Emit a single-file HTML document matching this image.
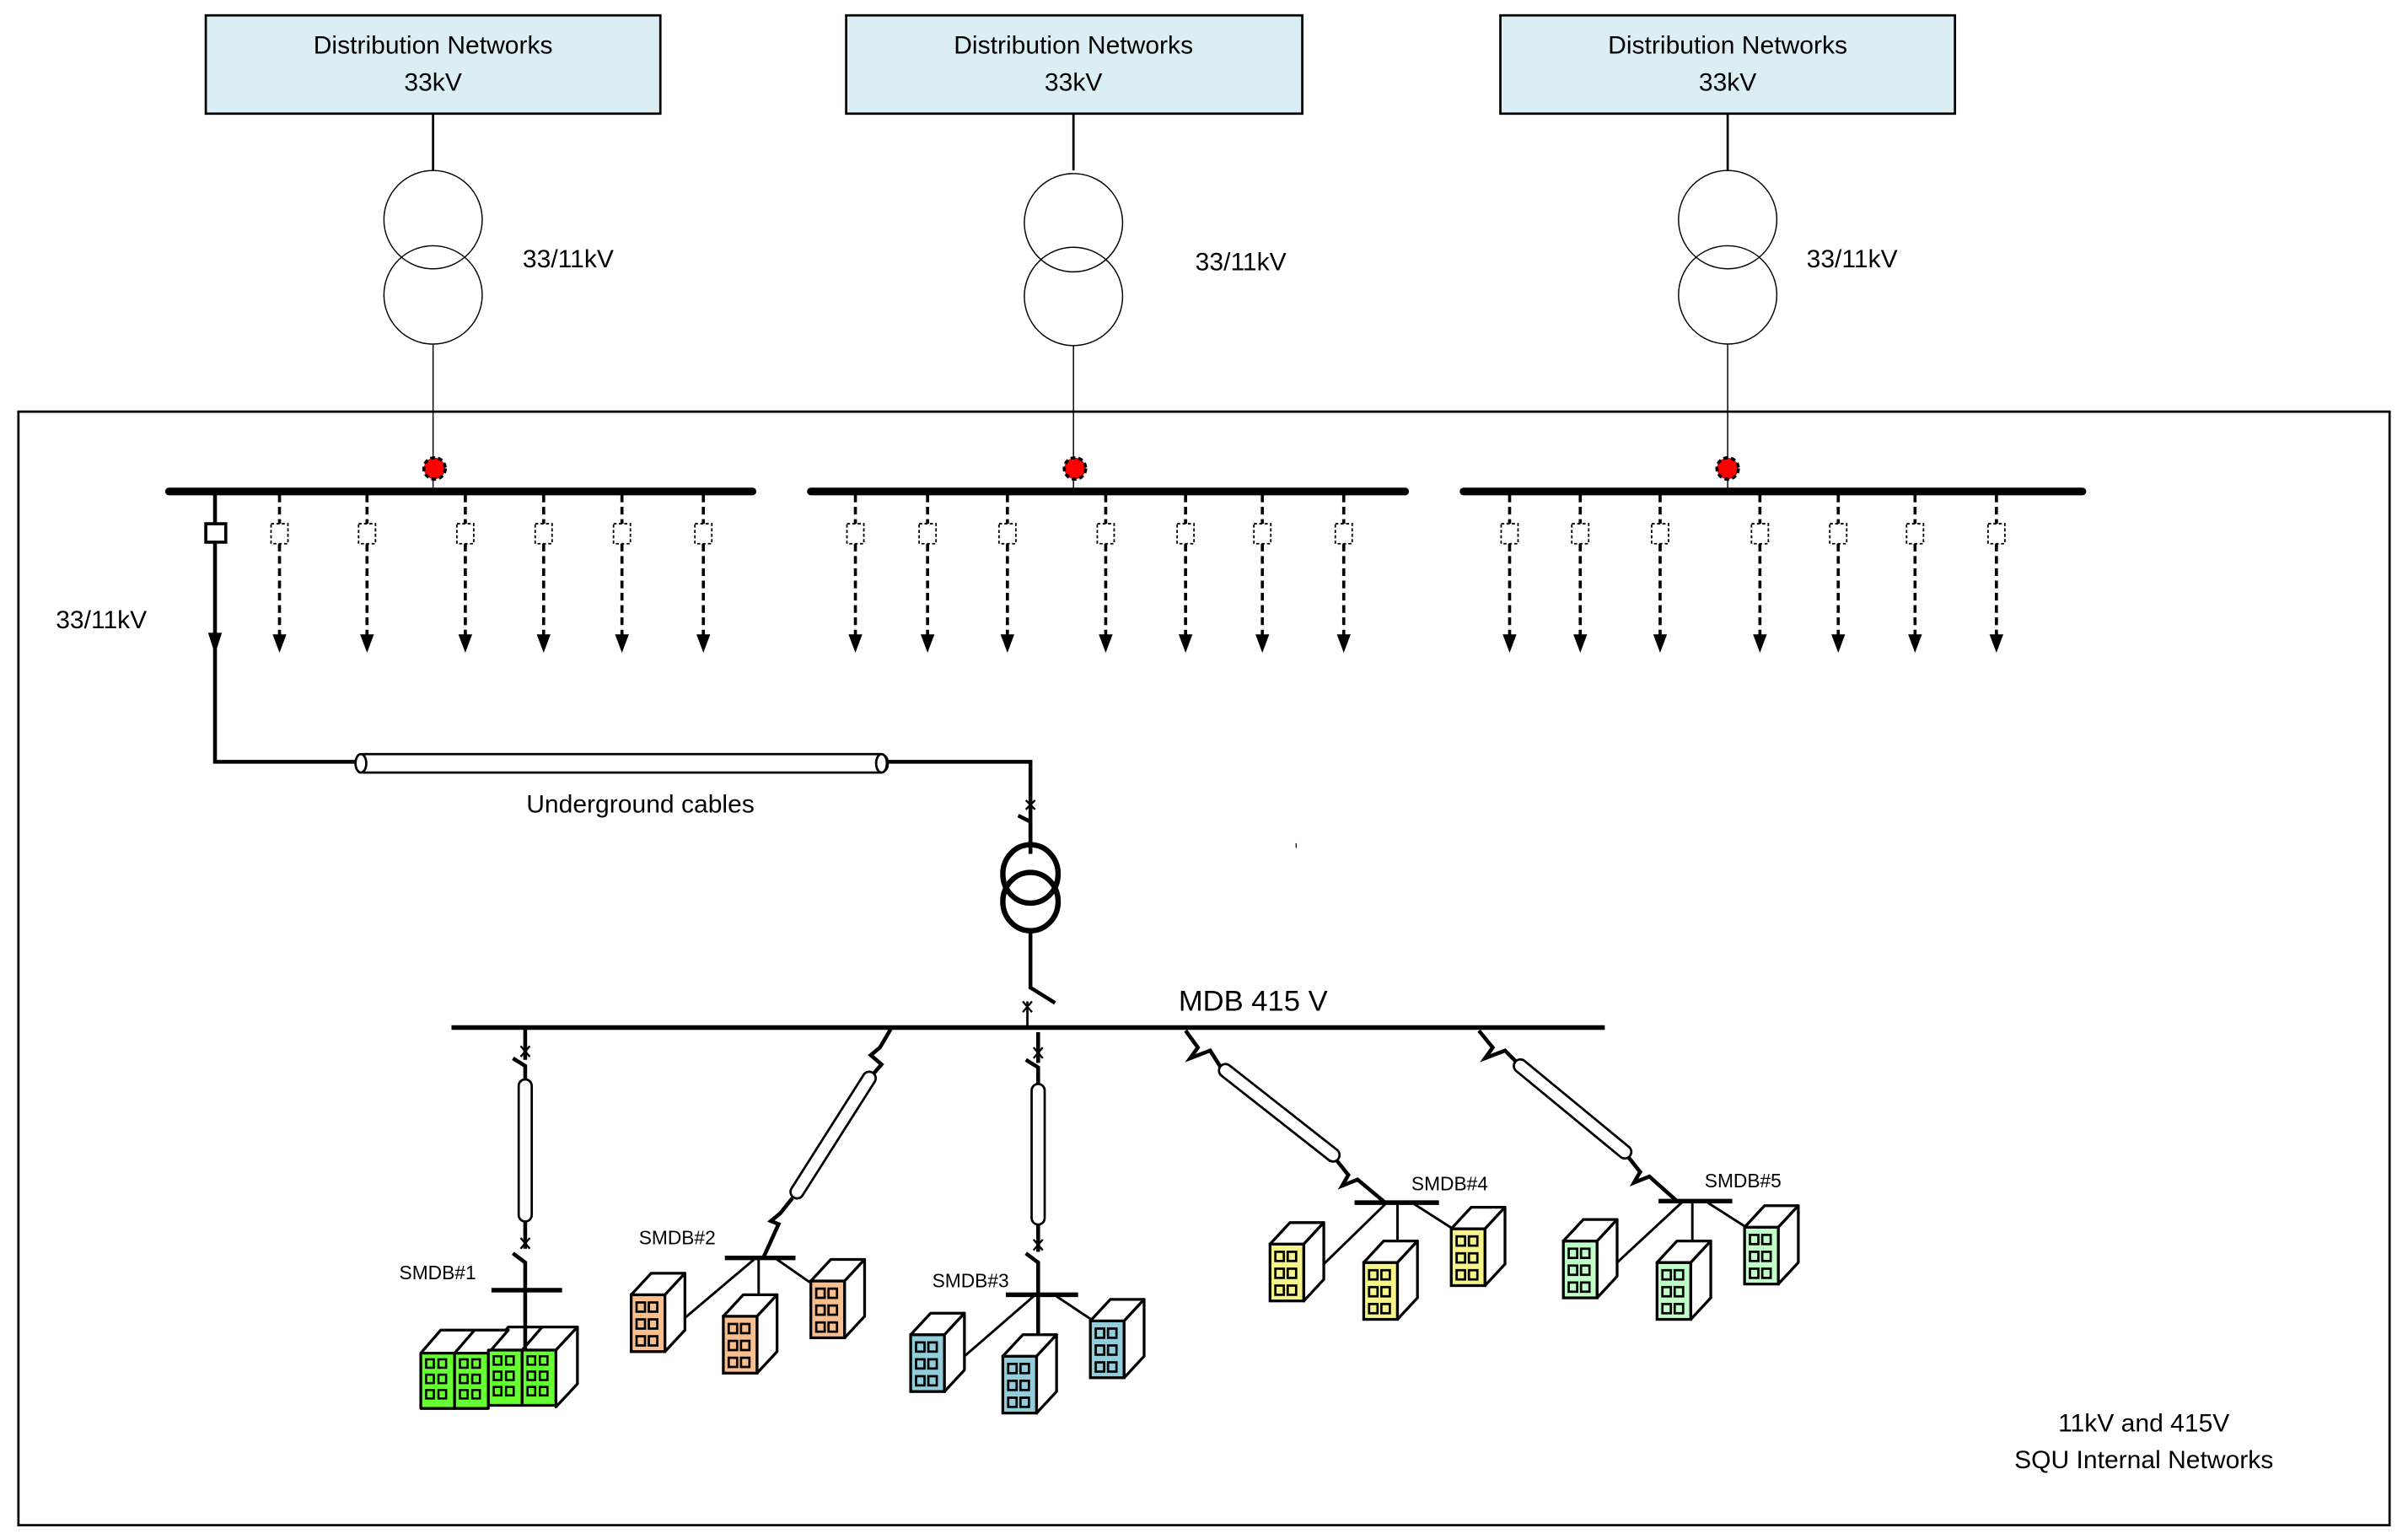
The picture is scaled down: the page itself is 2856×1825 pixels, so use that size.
<!DOCTYPE html>
<html><head><meta charset="utf-8"><style>html,body{margin:0;padding:0;background:#fff}svg{display:block}</style></head>
<body>
<svg width="2856" height="1825" viewBox="0 0 1568 1002" preserveAspectRatio="none" xmlns="http://www.w3.org/2000/svg" font-family="Liberation Sans, sans-serif">
<defs>
<g id="bld">
<polygon points="0,14 13,0 35,0 22,14" fill="#fff" stroke="#000" stroke-width="1.8" stroke-linejoin="round"/>
<polygon points="22,14 35,0 35,37 22,51" fill="#fff" stroke="#000" stroke-width="1.8" stroke-linejoin="round"/>
<g fill="none" stroke="#000" stroke-width="1.5">
<rect x="3.5" y="19" width="5.5" height="6"/><rect x="11.5" y="19" width="5.5" height="6"/>
<rect x="3.5" y="30" width="5.5" height="6"/><rect x="11.5" y="30" width="5.5" height="6"/>
<rect x="3.5" y="41" width="5.5" height="6"/><rect x="11.5" y="41" width="5.5" height="6"/>
</g>
</g>
<g id="dfeed">
<line x1="0" y1="322" x2="0" y2="414" stroke="#000" stroke-width="2" stroke-dasharray="5,3"/>
<rect x="-5.5" y="341" width="11" height="13" fill="#fff" stroke="#000" stroke-width="1" stroke-dasharray="2,1.5"/>
<polygon points="-4.5,413 4.5,413 0,425" fill="#000"/>
</g>
</defs>

<!-- top boxes -->
<g stroke="#000" stroke-width="1.5" fill="#dbeef3">
<rect x="134" y="10" width="296" height="64"/>
<rect x="551" y="10" width="297" height="64"/>
<rect x="977" y="10" width="296" height="64"/>
</g>
<g font-family="Liberation Sans, sans-serif" font-size="16.5" text-anchor="middle" fill="#000">
<text x="282" y="35">Distribution Networks</text><text x="282" y="59">33kV</text>
<text x="699" y="35">Distribution Networks</text><text x="699" y="59">33kV</text>
<text x="1125" y="35">Distribution Networks</text><text x="1125" y="59">33kV</text>
<text x="370" y="174">33/11kV</text>
<text x="808" y="176">33/11kV</text>
<text x="1206" y="174">33/11kV</text>
<text x="66" y="409">33/11kV</text>
<text x="417" y="529">Underground  cables</text>
<text x="1396" y="932">11kV and 415V</text>
<text x="1396" y="956">SQU Internal Networks</text>
</g>

<!-- transformers top -->
<g fill="none" stroke="#000">
<g stroke-width="1.5"><line x1="282" y1="74" x2="282" y2="111"/><line x1="699" y1="74" x2="699" y2="111"/><line x1="1125" y1="74" x2="1125" y2="111"/></g>
<g stroke-width="0.8">
<circle cx="282" cy="143" r="32"/><circle cx="282" cy="192" r="32"/>
<circle cx="699" cy="145" r="32"/><circle cx="699" cy="193" r="32"/>
<circle cx="1125" cy="143" r="32"/><circle cx="1125" cy="192" r="32"/>
<line x1="282" y1="224" x2="282" y2="320"/><line x1="699" y1="225" x2="699" y2="320"/><line x1="1125" y1="224" x2="1125" y2="320"/>
</g>
</g>
<!-- frame -->
<rect x="12" y="268" width="1544" height="725" fill="none" stroke="#000" stroke-width="1.5"/>

<!-- busbars -->
<g stroke="#000" stroke-width="5" stroke-linecap="round">
<line x1="110" y1="320" x2="490" y2="320"/>
<line x1="528" y1="320" x2="915" y2="320"/>
<line x1="953" y1="320" x2="1356" y2="320"/>
</g>
<!-- red dots -->
<g fill="#f00" stroke="#000" stroke-width="2" stroke-dasharray="3,2">
<circle cx="283" cy="305" r="7"/><circle cx="700" cy="305" r="7"/><circle cx="1125" cy="305" r="7"/>
</g>

<!-- feeders -->
<g>
<use href="#dfeed" x="182"/><use href="#dfeed" x="239"/><use href="#dfeed" x="303"/><use href="#dfeed" x="354"/><use href="#dfeed" x="405"/><use href="#dfeed" x="458"/>
<use href="#dfeed" x="557"/><use href="#dfeed" x="604"/><use href="#dfeed" x="656"/><use href="#dfeed" x="720"/><use href="#dfeed" x="772"/><use href="#dfeed" x="822"/><use href="#dfeed" x="875"/>
<use href="#dfeed" x="983"/><use href="#dfeed" x="1029"/><use href="#dfeed" x="1081"/><use href="#dfeed" x="1146"/><use href="#dfeed" x="1197"/><use href="#dfeed" x="1247"/><use href="#dfeed" x="1300"/>
</g>
<!-- solid feeder -->
<polyline points="140,322 140,496 671,496 671,556" fill="none" stroke="#000" stroke-width="2.5"/>
<rect x="134" y="341" width="13" height="12" fill="#fff" stroke="#000" stroke-width="2"/>
<polygon points="135.5,412 144.5,412 140,426" fill="#000"/>
<!-- underground cable -->
<rect x="232" y="491" width="346" height="12" rx="5" fill="#fff" stroke="#000" stroke-width="1.5"/>
<ellipse cx="235" cy="497" rx="3.5" ry="6" fill="#fff" stroke="#000" stroke-width="1.5"/>
<ellipse cx="574" cy="497" rx="3.5" ry="6" fill="#fff" stroke="#000" stroke-width="1.5"/>

<!-- main transformer -->
<g stroke="#000" fill="none">
<path d="M668,521 l6,6 M674,521 l-6,6" stroke-width="1.3"/>
<line x1="663" y1="531" x2="671" y2="535" stroke-width="2.5"/>
<line x1="671" y1="535" x2="671" y2="551" stroke-width="2.5"/>
<ellipse cx="671" cy="569" rx="18" ry="19" stroke-width="3.5"/>
<ellipse cx="671" cy="587" rx="18" ry="19" stroke-width="3.5"/>
<polyline points="671,606 671,643 687,653" stroke-width="2.5"/>
<line x1="669" y1="669" x2="669" y2="652" stroke-width="1.5"/>
<path d="M666,652 l6,7 M672,652 l-6,7" stroke-width="1.3"/>
</g>
<!-- MDB bus -->
<line x1="294" y1="669" x2="1045" y2="669" stroke="#000" stroke-width="3"/>
<text x="816" y="658" font-size="19" text-anchor="middle">MDB 415 V</text>

<!-- branches -->
<g stroke="#000" fill="none" stroke-width="2.5">
<!-- branch 1 -->
<line x1="342" y1="669" x2="342" y2="690"/>
<path d="M339,681 l6,7 M345,681 l-6,7" stroke-width="1.3"/>
<polyline points="334,689 342,694 342,703"/>
<line x1="342" y1="795" x2="342" y2="813"/>
<path d="M339,806 l6,7 M345,806 l-6,7" stroke-width="1.3"/>
<polyline points="334,816 342,822 342,866"/>
<line x1="320" y1="840" x2="366" y2="840" stroke-width="3"/>
<!-- branch 3 -->
<line x1="676" y1="672" x2="676" y2="692"/>
<path d="M673,682 l6,7 M679,682 l-6,7" stroke-width="1.3"/>
<polyline points="668,690 676,695 676,706"/>
<line x1="676" y1="797" x2="676" y2="815"/>
<path d="M673,807 l6,7 M679,807 l-6,7" stroke-width="1.3"/>
<polyline points="668,816 676,822 676,873"/>
<line x1="655" y1="843" x2="702" y2="843" stroke-width="3"/>
<!-- branch 2 -->
<polyline points="580,670 573,682 567,687 574,693 568,700"/>
<polyline points="516,780 508,790 502,795 507,797 497,819"/>
<line x1="472" y1="819" x2="518" y2="819" stroke-width="3"/>
<!-- branch 4 -->
<polyline points="772,671 780,682 775,689 788,684 795,695"/>
<polyline points="870,755 878,765 874,772 884,768 902,783"/>
<line x1="882" y1="783" x2="937" y2="783" stroke-width="3"/>
<!-- branch 5 -->
<polyline points="963,671 972,682 967,689 980,684 988,692"/>
<polyline points="1060,753 1068,763 1064,770 1074,766 1092,782"/>
<line x1="1080" y1="782" x2="1128" y2="782" stroke-width="3"/>
</g>
<!-- branch cables -->
<g fill="none" stroke-linecap="round">
<g stroke="#000" stroke-width="10">
<line x1="342" y1="707" x2="342" y2="791"/>
<line x1="676" y1="710" x2="676" y2="793"/>
<line x1="566" y1="702" x2="519" y2="776"/>
<line x1="798" y1="697" x2="868" y2="752"/>
<line x1="990" y1="694" x2="1058" y2="750"/>
</g>
<g stroke="#fff" stroke-width="7">
<line x1="342" y1="707" x2="342" y2="791"/>
<line x1="676" y1="710" x2="676" y2="793"/>
<line x1="566" y1="702" x2="519" y2="776"/>
<line x1="798" y1="697" x2="868" y2="752"/>
<line x1="990" y1="694" x2="1058" y2="750"/>
</g>
</g>

<!-- connection lines to buildings -->
<g stroke="#000" stroke-width="1.6" fill="none">
<line x1="491" y1="820" x2="446" y2="858"/><line x1="494" y1="820" x2="494" y2="857"/><line x1="506" y1="820" x2="529" y2="836"/>
<line x1="673" y1="844" x2="628" y2="883"/><line x1="676" y1="844" x2="676" y2="883"/><line x1="688" y1="844" x2="712" y2="860"/>
<line x1="902" y1="784" x2="862" y2="823"/><line x1="910" y1="784" x2="910" y2="822"/><line x1="921" y1="784" x2="946" y2="800"/>
<line x1="1095" y1="783" x2="1053" y2="822"/><line x1="1102" y1="783" x2="1102" y2="822"/><line x1="1112" y1="783" x2="1137" y2="799"/>
</g>

<!-- buildings -->
<g fill="#f9bf8f"><rect x="411" y="843" width="22" height="37" stroke="#000" stroke-width="1.8"/><rect x="471" y="857" width="22" height="37" stroke="#000" stroke-width="1.8"/><rect x="528" y="834" width="22" height="37" stroke="#000" stroke-width="1.8"/></g>
<use href="#bld" x="411" y="829"/><use href="#bld" x="471" y="843"/><use href="#bld" x="528" y="820"/>
<g fill="#92cddc"><rect x="593" y="869" width="22" height="37" stroke="#000" stroke-width="1.8"/><rect x="653" y="883" width="22" height="37" stroke="#000" stroke-width="1.8"/><rect x="710" y="860" width="22" height="37" stroke="#000" stroke-width="1.8"/></g>
<use href="#bld" x="593" y="855"/><use href="#bld" x="653" y="869"/><use href="#bld" x="710" y="846"/>
<g fill="#f5f58a"><rect x="827" y="810" width="22" height="37" stroke="#000" stroke-width="1.8"/><rect x="888" y="822" width="22" height="37" stroke="#000" stroke-width="1.8"/><rect x="945" y="800" width="22" height="37" stroke="#000" stroke-width="1.8"/></g>
<use href="#bld" x="827" y="796"/><use href="#bld" x="888" y="808"/><use href="#bld" x="945" y="786"/>
<g fill="#c0ffc8"><rect x="1018" y="808" width="22" height="37" stroke="#000" stroke-width="1.8"/><rect x="1079" y="822" width="22" height="37" stroke="#000" stroke-width="1.8"/><rect x="1136" y="799" width="22" height="37" stroke="#000" stroke-width="1.8"/></g>
<use href="#bld" x="1018" y="794"/><use href="#bld" x="1079" y="808"/><use href="#bld" x="1136" y="785"/>

<!-- SMDB#1 cluster -->
<g stroke="#000" stroke-width="1.8" stroke-linejoin="round">
<polygon points="318,879 331,864 376,864 362,879" fill="#fff"/>
<polygon points="362,879 376,864 376,901 362,916" fill="#fff"/>
<line x1="340" y1="879" x2="353" y2="864"/>
<polygon points="274,881 287,866 331,866 318,881" fill="#fff"/>
<line x1="296" y1="881" x2="309" y2="866"/>
<g fill="#66ff33">
<rect x="274" y="881" width="22" height="36"/><rect x="296" y="881" width="22" height="36"/>
<rect x="318" y="879" width="22" height="36"/><rect x="340" y="879" width="22" height="36"/>
</g>
</g>
<line x1="342" y1="864" x2="342" y2="879" stroke="#000" stroke-width="2.5"/>
<g fill="none" stroke="#000" stroke-width="1.4">
<rect x="277.5" y="885" width="5" height="5.5"/><rect x="285.5" y="885" width="5" height="5.5"/><rect x="277.5" y="895" width="5" height="5.5"/><rect x="285.5" y="895" width="5" height="5.5"/><rect x="277.5" y="905" width="5" height="5.5"/><rect x="285.5" y="905" width="5" height="5.5"/>
<rect x="299.5" y="885" width="5" height="5.5"/><rect x="307.5" y="885" width="5" height="5.5"/><rect x="299.5" y="895" width="5" height="5.5"/><rect x="307.5" y="895" width="5" height="5.5"/><rect x="299.5" y="905" width="5" height="5.5"/><rect x="307.5" y="905" width="5" height="5.5"/>
<rect x="321.5" y="883" width="5" height="5.5"/><rect x="329.5" y="883" width="5" height="5.5"/><rect x="321.5" y="893" width="5" height="5.5"/><rect x="329.5" y="893" width="5" height="5.5"/><rect x="321.5" y="903" width="5" height="5.5"/><rect x="329.5" y="903" width="5" height="5.5"/>
<rect x="343.5" y="883" width="5" height="5.5"/><rect x="351.5" y="883" width="5" height="5.5"/><rect x="343.5" y="893" width="5" height="5.5"/><rect x="351.5" y="893" width="5" height="5.5"/><rect x="343.5" y="903" width="5" height="5.5"/><rect x="351.5" y="903" width="5" height="5.5"/>
</g>

<!-- SMDB labels -->
<g font-size="12.5" fill="#000">
<text x="260" y="833">SMDB#1</text>
<text x="416" y="810">SMDB#2</text>
<text x="607" y="838">SMDB#3</text>
<text x="919" y="775">SMDB#4</text>
<text x="1110" y="773">SMDB#5</text>
</g>
<line x1="844" y1="549" x2="844" y2="552" stroke="#000" stroke-width="0.7"/>
</svg>
</body></html>
